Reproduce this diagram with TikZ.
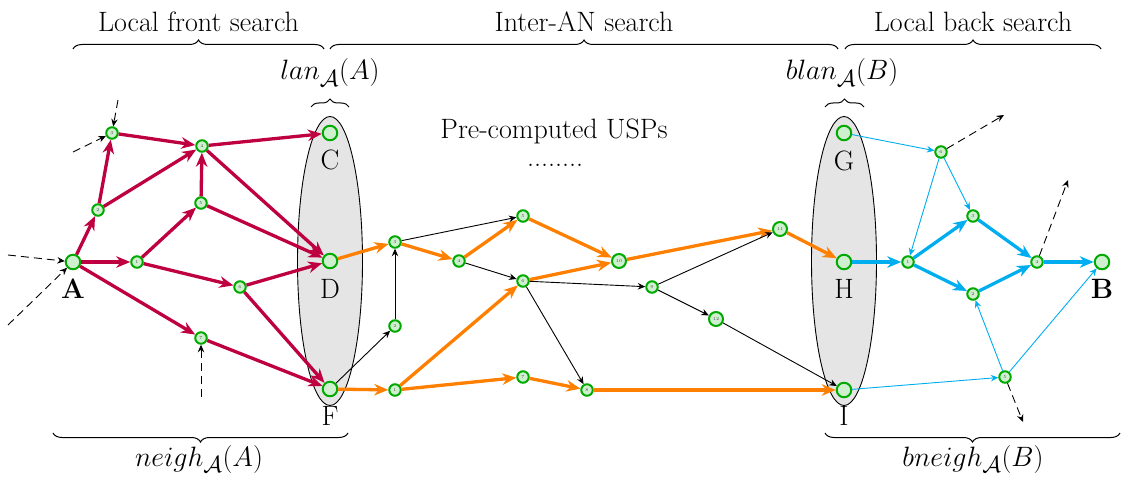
\documentclass[tikz,border=0pt]{standalone}
\usetikzlibrary{arrows.meta,decorations.pathreplacing}
\definecolor{ecol}{RGB}{191,0,64}
\definecolor{ocol}{RGB}{255,128,0}
\definecolor{ccol}{RGB}{0,174,239}
\definecolor{ncol}{RGB}{0,170,0}
\definecolor{nfill}{RGB}{206,240,206}
\definecolor{elfill}{RGB}{229,229,229}
\begin{document}
\begin{tikzpicture}[x=1pt,y=-1pt,
 bn/.style={circle,draw=ncol,fill=nfill,line width=2pt,minimum size=14.5pt,inner sep=0pt},
 sn/.style={circle,draw=ncol,fill=nfill,line width=2pt,minimum size=11.5pt,inner sep=0pt,font=\fontsize{4.5}{5}\selectfont,text=black!70},
 dn/.style={sn,minimum size=14pt},
 lbl/.style={font=\fontsize{28}{33}\selectfont,anchor=base,inner sep=0pt},
 mlbl/.style={font=\fontsize{24.88}{30}\selectfont,anchor=base,inner sep=0pt,scale=1.1254},
 pe/.style={draw=ecol,line width=3.3pt,-{Stealth[length=14pt,width=11.5pt,inset=4.5pt]}},
 oe/.style={pe,draw=ocol},
 ce/.style={pe,draw=ccol},
 te/.style={draw=black,line width=0.9pt,-{Stealth[length=7.5pt,width=6.5pt,inset=2.5pt]}},
 tc/.style={te,draw=ccol},
 de/.style={te,dash pattern=on 8pt off 5pt},
 br/.style={decorate,decoration={brace,amplitude=9pt},line width=1pt},
]
\useasboundingbox (0,0) rectangle (1123,476);
% ellipses
\path[draw=black,line width=0.9pt,fill=elfill] (330,261) ellipse [x radius=32.5,y radius=144.5];
\path[draw=black,line width=0.9pt,fill=elfill] (844,261) ellipse [x radius=32.5,y radius=144.5];
% left nodes
\node[bn] (A) at (73,262) {};
\node[sn] (l1) at (137,262) {1};
\node[sn] (l2) at (98,210) {2};
\node[sn] (l3) at (112,133) {3};
\node[sn] (l4) at (202,146) {4};
\node[sn] (l5) at (201,203) {5};
\node[sn] (l6) at (240,287) {6};
\node[sn] (l7) at (201,338) {7};
\node[bn] (C) at (330,133) {};
\node[bn] (D) at (330,261) {};
\node[bn] (F) at (330,389) {};
% middle nodes
\node[sn] (m1) at (395,390) {1};
\node[sn] (m2) at (395,326) {2};
\node[sn] (m3) at (395,242) {3};
\node[sn] (m4) at (459,261) {4};
\node[sn] (m5) at (523,216) {5};
\node[sn] (m6) at (523,281) {6};
\node[sn] (m7) at (523,377) {7};
\node[sn] (m8) at (587,390) {8};
\node[sn] (m9) at (652,287) {9};
\node[dn] (m10) at (619,261) {10};
\node[dn] (m11) at (780,229) {11};
\node[dn] (m12) at (716,319) {12};
% right nodes
\node[bn] (G) at (844,133) {};
\node[bn] (H) at (844,262) {};
\node[bn] (I) at (844,390) {};
\node[sn] (r1) at (908,262) {1};
\node[sn] (r2) at (973,294) {2};
\node[sn] (r3) at (973,216) {3};
\node[sn] (r4) at (1037,262) {4};
\node[sn] (r5) at (1005,377) {5};
\node[sn] (r6) at (941,152) {6};
\node[bn] (B) at (1102,262) {};
% node labels
\node[lbl] (lA) at (73,298) {\textbf{A}};
\node[lbl] (lC) at (330,169.5) {C};
\node[lbl] (lD) at (330,298) {D};
\node[lbl] (lF) at (330,425) {F};
\node[lbl] (lG) at (844,170) {G};
\node[lbl] (lH) at (844,298) {H};
\node[lbl] (lI) at (844,425) {I};
\node[lbl] (lB) at (1102,298) {\textbf{B}};
% left edges
\draw[pe] (A) -- (l2);
\draw[pe] (A) -- (l1);
\draw[pe] (A) -- (l7);
\draw[pe] (l2) -- (l3);
\draw[pe] (l2) -- (l4);
\draw[pe] (l3) -- (l4);
\draw[pe] (l4) -- (C);
\draw[pe] (l4) -- (D);
\draw[pe] (l1) -- (l5);
\draw[pe] (l1) -- (l6);
\draw[pe] (l5) -- (l4);
\draw[pe] (l5) -- (D);
\draw[pe] (l6) -- (D);
\draw[pe] (l6) -- (F);
\draw[pe] (l7) -- (F);
% left dashed
\coordinate (dA1) at (8,255);
\coordinate (dA2) at (8,325);
\coordinate (d31) at (118,100);
\coordinate (d32) at (73,152);
\coordinate (d7) at (201,397);
\draw[de] (dA1) -- (A);
\draw[de] (dA2) -- (A);
\draw[de] (d31) -- (l3);
\draw[de] (d32) -- (l3);
\draw[de] (d7) -- (l7);
% middle edges
\draw[oe] (D) -- (m3);
\draw[oe] (m3) -- (m4);
\draw[oe] (m4) -- (m5);
\draw[oe] (m5) -- (m10);
\draw[oe] (m6) -- (m10);
\draw[oe] (F) -- (m1);
\draw[oe] (m1) -- (m6);
\draw[oe] (m1) -- (m7);
\draw[oe] (m7) -- (m8);
\draw[oe] (m8) -- (I);
\draw[oe] (m10) -- (m11);
\draw[oe] (m11) -- (H);
\draw[te] (m3) -- (m5);
\draw[te] (m4) -- (m6);
\draw[te] (m6) -- (m9);
\draw[te] (m6) -- (m8);
\draw[te] (m2) -- (m3);
\draw[te] (F) -- (m2);
\draw[te] (m9) -- (m11);
\draw[te] (m9) -- (m12);
\draw[te] (m12) -- (I);
% right edges
\draw[tc] (G) -- (r6);
\draw[tc] (r6) -- (r3);
\draw[tc] (r6) -- (r1);
\draw[tc] (I) -- (r5);
\draw[tc] (r5) -- (r2);
\draw[tc] (r5) -- (B);
\draw[ce] (H) -- (r1);
\draw[ce] (r1) -- (r3);
\draw[ce] (r1) -- (r2);
\draw[ce] (r3) -- (r4);
\draw[ce] (r2) -- (r4);
\draw[ce] (r4) -- (B);
\coordinate (e6) at (1004,115);
\coordinate (e4) at (1068,180);
\coordinate (e5) at (1023,422);
\draw[de] (r6) -- (e6);
\draw[de] (r4) -- (e4);
\draw[de] (r5) -- (e5);
% braces
\coordinate (b1a) at (73,49);
\coordinate (b1b) at (324,49);
\coordinate (b2a) at (330,49);
\coordinate (b2b) at (838,49);
\coordinate (b3a) at (845,49);
\coordinate (b3b) at (1101,49);
\coordinate (s1a) at (311,107);
\coordinate (s1b) at (349,107);
\coordinate (s2a) at (825,107);
\coordinate (s2b) at (864,107);
\coordinate (n1a) at (348,433);
\coordinate (n1b) at (53,433);
\coordinate (n2a) at (1120,433);
\coordinate (n2b) at (825,433);
\draw[br] (b1a) -- (b1b);
\draw[br] (b2a) -- (b2b);
\draw[br] (b3a) -- (b3b);
\draw[br,decoration={amplitude=8pt}] (s1a) -- (s1b);
\draw[br,decoration={amplitude=8pt}] (s2a) -- (s2b);
\draw[br] (n1a) -- (n1b);
\draw[br] (n2a) -- (n2b);
% texts
\node[lbl] (t1) at (198.5,32) {Local front search};
\node[lbl] (t2) at (584,32) {Inter-AN search};
\node[lbl] (t3) at (973,32) {Local back search};
\node[mlbl] (t4) at (330,80) {$lan_{\mathcal{A}}(A)$};
\node[mlbl] (t5) at (842,80) {$blan_{\mathcal{A}}(B)$};
\node[mlbl] (t6) at (199,466) {$neigh_{\mathcal{A}}(A)$};
\node[mlbl] (t7) at (973,466) {$bneigh_{\mathcal{A}}(B)$};
\node[lbl] (pc) at (554,138) {Pre-computed USPs};
\node[lbl] (dots) at (555,166) {........};
\end{tikzpicture}
\end{document}
